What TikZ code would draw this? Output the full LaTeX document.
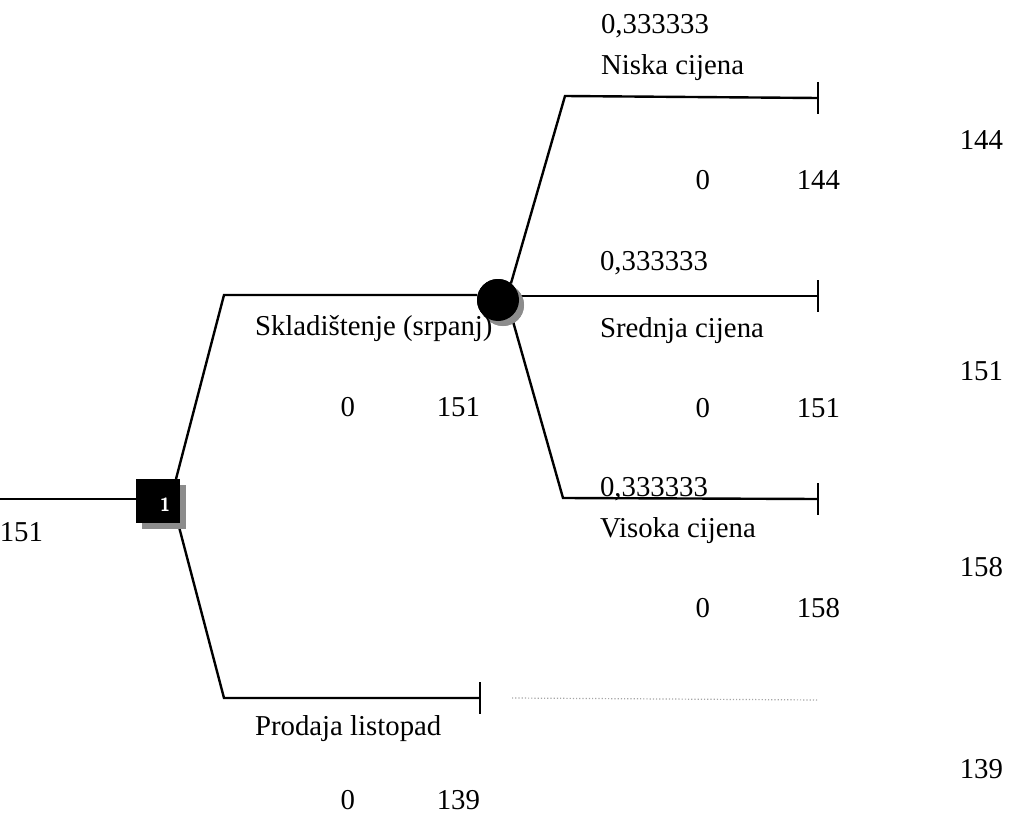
\documentclass[tikz,border=0pt]{standalone}
\usepackage{fontspec}
\setmainfont{Liberation Serif}
\usetikzlibrary{positioning,shadows}

\begin{document}
\begin{tikzpicture}[
    x=1pt, y=-1pt,
    every node/.style = {
      inner sep=0pt,
      outer sep=0pt
    },
    txt/.style = {font=\fontsize{28.8}{34}\selectfont, anchor=base west},
    num/.style = {font=\fontsize{28.8}{34}\selectfont, anchor=base east},
    branch/.style = {line width=2.4pt},
    tick/.style = {line width=2.4pt},
    decision/.style = {shape=rectangle, fill=black, minimum size=44pt,
      drop shadow={shadow xshift=6pt, shadow yshift=-6pt, fill=black!45, opacity=1}},
    chance/.style = {shape=circle, fill=black, minimum size=42pt,
      drop shadow={shadow xshift=5pt, shadow yshift=-5pt, fill=black!45, opacity=1}},
    dnum/.style = {font=\sffamily\bfseries\fontsize{19}{19}\selectfont, text=white}
  ]
    \useasboundingbox (0,0) rectangle (1010,816);

    % corners and ends of the branches
    \coordinate (root) at (0,499);
    \coordinate (skl) at (224,295);
    \coordinate (pro) at (224,698);
    \coordinate (pro-end) at (480,698);
    \coordinate (nis) at (565,96);
    \coordinate (nis-end) at (818,98);
    \coordinate (sre-end) at (818,296);
    \coordinate (vis) at (563,498);
    \coordinate (vis-end) at (818,499);
    \coordinate (dot-a) at (512,698);
    \coordinate (dot-b) at (818,700);

    % nodes
    \node[decision] (dec) at (158,501) {};
    \node[chance] (cha) at (498,300) {};

    % decision branches
    \draw[branch] (root) -- (dec.west |- root);
    \draw[branch] ([xshift=-4pt]dec.north east) -- (skl) -- (skl -| cha.west);
    \draw[branch] ([xshift=-2pt]dec.south east) -- (pro) -- (pro-end);
    \draw[tick] ([yshift=16pt]pro-end) -- ([yshift=-16pt]pro-end);

    % chance branches
    \draw[branch] (cha.52) -- (nis) -- (nis-end);
    \draw[branch] (cha.east |- sre-end) -- (sre-end);
    \draw[branch] (cha.-50) -- (vis) -- (vis-end);
    \foreach \e in {nis-end, sre-end, vis-end}
      \draw[tick] ([yshift=16pt]\e) -- ([yshift=-16pt]\e);

    \draw[black!35, line width=1.2pt, dotted] (dot-a) -- (dot-b);

    % redraw nodes on top of the lines
    \node[decision] (dec) at (158,501) {};
    \node[chance] (cha) at (498,300) {};
    \node[dnum] (dec-num) at (165,505) {1};

    % texts of the decision branches
    \node[num] (v-root) at (43,541) {151};
    \node[txt] (l-skl) at (255,335) {Skladištenje (srpanj)};
    \node[num] (c-skl) at (355,416) {0};
    \node[num] (e-skl) at (480,416) {151};
    \node[txt] (l-pro) at (255,735) {Prodaja listopad};
    \node[num] (c-pro) at (355,809) {0};
    \node[num] (e-pro) at (480,809) {139};
    \node[num] (v-pro) at (1003,778) {139};

    % texts of the chance branches
    \node[txt] (p-nis) at (601,34) {0,333333};
    \node[txt] (l-nis) at (601,75) {Niska cijena};
    \node[num] (v-nis) at (1003,149) {144};
    \node[num] (c-nis) at (710,189) {0};
    \node[num] (e-nis) at (840,189) {144};

    \node[txt] (p-sre) at (600,270) {0,333333};
    \node[txt] (l-sre) at (600,337) {Srednja cijena};
    \node[num] (v-sre) at (1003,380) {151};
    \node[num] (c-sre) at (710,417) {0};
    \node[num] (e-sre) at (840,417) {151};

    \node[txt] (p-vis) at (600,496) {0,333333};
    \node[txt] (l-vis) at (600,537) {Visoka cijena};
    \node[num] (v-vis) at (1003,576) {158};
    \node[num] (c-vis) at (710,617) {0};
    \node[num] (e-vis) at (840,617) {158};
  \end{tikzpicture}
\end{document}
